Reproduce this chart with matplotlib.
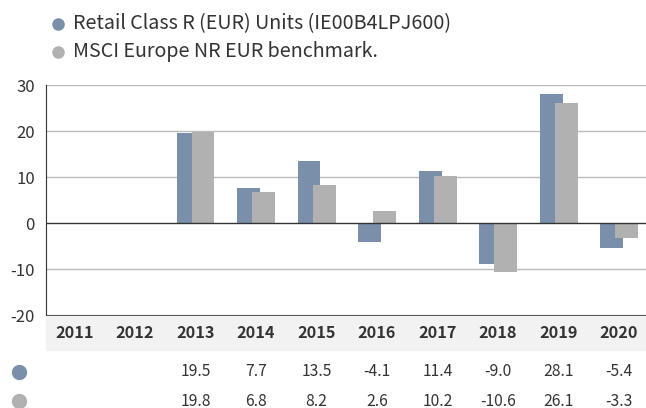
import numpy as np
import matplotlib
matplotlib.use("Agg")
import matplotlib.pyplot as plt
from matplotlib.patches import Rectangle
from matplotlib.lines import Line2D

plt.rcParams['font.family'] = ['Noto Sans CJK SC', 'DejaVu Sans']

years = ["2011", "2012", "2013", "2014", "2015", "2016", "2017", "2018", "2019", "2020"]
fund = [np.nan, np.nan, 19.5, 7.7, 13.5, -4.1, 11.4, -9.0, 28.1, -5.4]
bench = [np.nan, np.nan, 19.8, 6.8, 8.2, 2.6, 10.2, -10.6, 26.1, -3.3]
series_names = ["Retail Class R (EUR) Units (IE00B4LPJ600)", "MSCI Europe NR EUR benchmark."]
yticks = [-20, -10, 0, 10, 20, 30]

BLUE = "#7a8fa9"
GREY = "#b1b1b1"
TXT = "#333333"

W, H = 646, 408
fig = plt.figure(figsize=(W / 100, H / 100), dpi=100)

# axes in pixel coords
ax_l, ax_r, ax_t, ax_b = 46, 646, 85, 315
ax = fig.add_axes([ax_l / W, 1 - ax_b / H, (ax_r - ax_l) / W, (ax_b - ax_t) / H])

x = np.arange(len(years))
bw = 0.38
off = 0.124
ax.bar(x - off, fund, width=bw, color=BLUE, zorder=3)
ax.bar(x + off, bench, width=bw, color=GREY, zorder=4)

ax.set_ylim(-20, 30)
ax.set_xlim(-0.471, 9.446)
ax.set_yticks(yticks)
ax.set_yticklabels([str(t) for t in yticks], fontsize=12, color=TXT)
ax.set_xticks([])
for t in yticks:
    if t not in (0, -20):
        ax.axhline(t, color="#bcbcbc", lw=1, zorder=1)
ax.axhline(0, color=TXT, lw=1, zorder=5)
for s in ["top", "right"]:
    ax.spines[s].set_visible(False)
ax.spines["left"].set_color(TXT)
ax.spines["bottom"].set_color(TXT)
ax.tick_params(axis="y", length=0, pad=8)

def fx(px):
    return px / W

def fy(py):
    return 1 - py / H

# category band
fig.patches.append(Rectangle((fx(46), fy(350)), fx(646) - fx(46), fy(316) - fy(350),
                             transform=fig.transFigure, color="#f2f2f2", zorder=0))

def cat_px(i):
    return 74.5 + 60.5 * i

for i, yr in enumerate(years):
    fig.text(fx(cat_px(i)), fy(332.5), yr, ha="center", va="center",
             fontsize=11.7, fontweight="bold", color=TXT)

# table rows
rows = [(fund, BLUE, 372), (bench, GREY, 401)]
for vals, col, ypx in rows:
    fig.add_artist(Line2D([fx(19)], [fy(ypx)], marker="o", markersize=10,
                          color=col, transform=fig.transFigure))
    for i, v in enumerate(vals):
        if not np.isnan(v):
            fig.text(fx(cat_px(i)), fy(ypx), f"{v:.1f}", ha="center", va="center",
                     fontsize=11.3, color=TXT)

# legend
for name, col, ypx in [(series_names[0], BLUE, 24), (series_names[1], GREY, 52)]:
    fig.add_artist(Line2D([fx(57.5)], [fy(ypx)], marker="o", markersize=8,
                          color=col, transform=fig.transFigure))
    fig.text(fx(73), fy(ypx), name, ha="left", va="center", fontsize=14.2, color=TXT)

fig.savefig("out.png", dpi=100)
